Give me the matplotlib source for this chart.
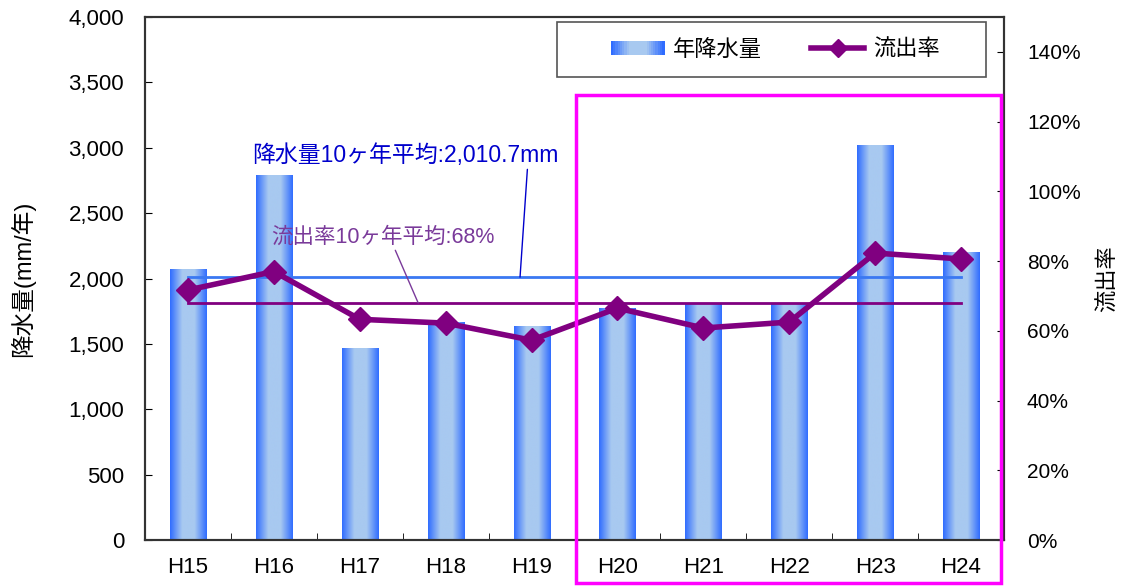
import numpy as np
import matplotlib
matplotlib.use('Agg')
import matplotlib.pyplot as plt
from matplotlib.colors import LinearSegmentedColormap
from matplotlib.legend_handler import HandlerBase
from matplotlib.patches import Rectangle
from matplotlib.lines import Line2D
from matplotlib.ticker import FuncFormatter, MultipleLocator

plt.rcParams['font.family'] = ['Liberation Sans', 'Noto Sans CJK JP', 'DejaVu Sans']

years = ['H15', 'H16', 'H17', 'H18', 'H19', 'H20', 'H21', 'H22', 'H23', 'H24']
rain = [2073, 2790, 1468, 1667, 1637, 1774, 1805, 1805, 3021, 2203]
runoff = [71.7, 77.0, 63.3, 62.2, 57.3, 66.5, 60.8, 62.5, 82.3, 80.6]
rain_avg = 2010.7
runoff_avg = 68

cmap = LinearSegmentedColormap.from_list('bar', ['#2f6cff', '#a8c9f0', '#a8c9f0', '#2f6cff'])
grad = np.linspace(0, 1, 256).reshape(1, -1)

fig = plt.figure(figsize=(11.21, 5.86), dpi=100)
ax1 = fig.add_axes([145/1121, 1-540/586, (1004-145)/1121, (540-17)/586])
ax2 = ax1.twinx()

x = np.arange(len(years))
bars = ax1.bar(x, rain, width=0.42, facecolor='none', edgecolor='none', zorder=2)
for b in bars:
    bx, by = b.get_xy()
    im = ax1.imshow(grad, cmap=cmap, extent=[bx, bx+b.get_width(), by, by+b.get_height()],
                    aspect='auto', interpolation='bilinear', zorder=2)
    im.set_clip_path(b)

ax1.plot([x[0], x[-1]], [rain_avg, rain_avg], color='#3a78f2', lw=2, zorder=3)
ax1.set_xlim(-0.5, len(years)-0.5)
ax1.set_ylim(0, 4000)
ax1.yaxis.set_major_locator(MultipleLocator(500))
ax1.yaxis.set_major_formatter(FuncFormatter(lambda v, p: f'{int(v):,}'))
ax1.set_xticks(x)
ax1.set_xticklabels(years)
ax1.set_xticks(np.arange(0.5, len(years)-1, 1), minor=True)
ax1.tick_params(axis='x', which='major', length=0, labelsize=16, pad=12)
ax1.tick_params(axis='x', which='minor', direction='in', length=5)
ax1.tick_params(axis='y', direction='in', length=5, labelsize=16, pad=15)
ax1.set_ylabel('降水量(mm/年)', fontsize=17, labelpad=24)

ax2.plot(x, np.array(runoff)/100, color='#800080', lw=4, marker='D', markersize=12, zorder=5)
ax2.plot([x[0], x[-1]], [runoff_avg/100, runoff_avg/100], color='#800080', lw=2, zorder=4)
ax2.set_ylim(0, 1.5)
ax2.set_yticks(np.arange(0, 1.41, 0.2))
ax2.yaxis.set_major_formatter(FuncFormatter(lambda v, p: f'{v*100:.0f}%'))
ax2.tick_params(axis='y', direction='in', length=5, labelsize=15, pad=16.5)
ax2.set_ylabel('流出率', fontsize=16, labelpad=12)

for a in (ax1, ax2):
    for s in a.spines.values():
        s.set_color('#333333')
        s.set_linewidth(1.5)

ax1.annotate('降水量10ヶ年平均:2,010.7mm', xy=(3.866, rain_avg), xytext=(2.527, 2944),
             ha='center', va='center', fontsize=16.5, color='#0000cc',
             arrowprops=dict(arrowstyle='-', color='#0000cc', lw=1, relpos=(0.9, 0),
                             shrinkA=0, shrinkB=0), zorder=6)
ax2.annotate('流出率10ヶ年平均:68%', xy=(2.68, runoff_avg/100), xytext=(2.27, 0.869),
             ha='center', va='center', fontsize=15.5, color='#7a3a9a',
             arrowprops=dict(arrowstyle='-', color='#7a3a9a', lw=1, relpos=(0.55, 0),
                             shrinkA=0, shrinkB=0), zorder=6)


class GradHandler(HandlerBase):
    def create_artists(self, legend, orig, xd, yd, width, height, fontsize, trans):
        n = 24
        arts = []
        for i in range(n):
            arts.append(Rectangle((-xd + width*i/n, -yd), width/n + 0.3, height,
                                  facecolor=cmap(i/(n-1)), edgecolor='none', transform=trans))
        return arts


# legend box drawn separately so the entries sit in the middle with wide side margins
fig.add_artist(Rectangle((557/1121, 1-77/586), (986-557)/1121, 55/586, transform=fig.transFigure,
                         facecolor='white', edgecolor='#555555', lw=1.2, zorder=8))
h1 = Rectangle((0, 0), 1, 1)
h2 = Line2D([], [], color='#800080', lw=4, marker='D', markersize=9)
leg = fig.legend([h1, h2], ['年降水量', '流出率'], handler_map={Rectangle: GradHandler()},
                 ncol=2, fontsize=16, loc='center',
                 bbox_to_anchor=((557+986)/2/1121 + 4/1121, 1-50/586),
                 frameon=False, handlelength=2.4, handleheight=0.6,
                 columnspacing=2.2, handletextpad=0.4)
leg.set_zorder(9)

fig.add_artist(Rectangle((576/1121, 1-583/586), (1001-576)/1121, (583-95)/586,
                         transform=fig.transFigure, fill=False, edgecolor='#ff00ff', lw=2.5,
                         zorder=10))

fig.savefig('out.png', dpi=100)
